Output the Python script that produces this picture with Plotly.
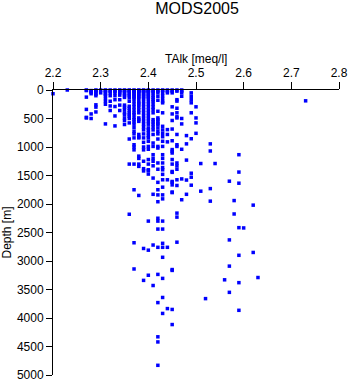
import plotly.graph_objects as go

# TAlk columns (meq/l) and the depths (m) of the samples in each column
d_220 = [65]
d_223 = [0]
d_227 = [0, 10, 125, 340, 480, 490]
d_228 = [10, 20, 40, 65, 420, 500]
d_229 = [0, 10, 20, 50, 75, 100, 260, 300, 385]
d_230 = [0, 50]
d_231 = [0, 10, 20, 50, 75, 100, 150, 200, 250, 595]
d_232 = [0, 20, 50, 100, 197, 280, 360]
d_233 = [0, 20, 50, 100, 170, 290, 455, 630]
d_234 = [0, 10, 30, 50, 90, 170, 265, 360]
d_235 = [0, 10, 20, 50, 75, 100, 130, 265, 300, 340, 400, 430, 490, 535, 605]
d_236 = [0, 10, 20, 50, 75, 100, 137, 197, 285, 320, 360, 400, 431, 461, 500, 577, 860, 1300, 2180]
d_237 = [0, 10, 20, 30, 50, 75, 100, 125, 150, 200, 250, 300, 350, 400, 430, 485, 520, 560, 600,
         660, 725, 770, 840, 960, 1000, 1050, 1300, 1750, 2680, 3140]
d_238 = [0, 10, 20, 30, 50, 75, 100, 125, 150, 200, 230, 260, 300, 350, 400, 490, 520, 550, 780,
         825, 840, 1160, 1200, 1300, 1340, 1850]
d_239 = [0, 10, 20, 30, 50, 75, 100, 125, 150, 200, 250, 300, 350, 400, 450, 500, 550, 600, 650,
         700, 770, 840, 918, 1000, 1050, 1250, 1380, 1420, 2780, 3340]
d_240 = [0, 10, 20, 30, 50, 75, 100, 125, 150, 200, 250, 300, 350, 400, 450, 500, 550, 600, 665,
         700, 750, 800, 840, 900, 990, 1040, 1220, 1300, 1400, 1415, 1475, 2300, 2810, 3250]
d_241 = [0, 30, 50, 100, 130, 170, 200, 250, 300, 345, 400, 520, 560, 600, 650, 700, 780, 930,
         990, 1135, 1200, 1250, 1330, 1545, 1830, 2720, 3430]
d_242 = [0, 20, 50, 110, 180, 373, 490, 520, 550, 590, 610, 666, 725, 770, 860, 990, 1018, 1280,
         1390, 1620, 1750, 1840, 1960, 2250, 2300, 2440, 2760, 3235, 3730, 4330, 4420, 4830]
d_243 = [0, 10, 50, 100, 150, 200, 225, 400, 637, 700, 760, 820, 900, 990, 1135, 1200, 1280,
         1360, 1400, 1480, 1575, 1705, 1840, 1910, 2300, 2440, 2690, 2760, 2935, 3305, 3640, 3920]
d_244 = [0, 20, 50, 695, 780, 910, 1575, 2760, 3835]
d_245 = [0, 20, 50, 295, 420, 535, 685, 890, 1045, 1075, 1105, 1220, 1300, 1430, 1445, 1605,
         1620, 1665, 1790, 1800, 3150, 3165, 3850, 4115]
d_246 = [0, 20, 170, 195, 320, 400, 470, 490, 780, 960, 990, 1280, 1330, 1390, 1575, 1675,
         2160, 2230, 2670]
d_247 = [0, 20, 50, 110, 500, 595, 1040, 1560, 1925]
d_248 = [800, 945, 1230, 1580, 1830]
d_249 = [50, 110, 170, 225, 400, 855, 1460, 1530, 1670]
d_250 = [295, 490, 577, 760]
d_251 = [1290, 1775]
d_252 = [3660]
d_253 = [945, 1070, 1730, 1950]
d_254 = [1290]
d_256 = [3330]
d_257 = [1600, 2630, 3090, 3550]
d_258 = [1940, 2175]
d_259 = [1135, 1440, 1635, 2415, 2900, 3380, 3865]
d_260 = [2420]
d_262 = [2020, 2850]
d_263 = [3290]
d_273 = [190]

columns = [
    (2.20, d_220), (2.23, d_223), (2.27, d_227), (2.28, d_228), (2.29, d_229), (2.30, d_230),
    (2.31, d_231), (2.32, d_232), (2.33, d_233), (2.34, d_234), (2.35, d_235), (2.36, d_236),
    (2.37, d_237), (2.38, d_238), (2.39, d_239), (2.40, d_240), (2.41, d_241), (2.42, d_242),
    (2.43, d_243), (2.44, d_244), (2.45, d_245), (2.46, d_246), (2.47, d_247), (2.48, d_248),
    (2.49, d_249), (2.50, d_250), (2.51, d_251), (2.52, d_252), (2.53, d_253), (2.54, d_254),
    (2.56, d_256), (2.57, d_257), (2.58, d_258), (2.59, d_259), (2.60, d_260), (2.62, d_262),
    (2.63, d_263), (2.73, d_273),
]

x_ticks = [2.2, 2.3, 2.4, 2.5, 2.6, 2.7, 2.8]
y_ticks = [0, 500, 1000, 1500, 2000, 2500, 3000, 3500, 4000, 4500, 5000]

xs, ys = [], []
for talk, depths in columns:
    for d in depths:
        xs.append(talk)
        ys.append(d)

FONT = "Liberation Sans, Arial, Helvetica, sans-serif"

fig = go.Figure()
fig.add_trace(go.Scatter(
    x=xs, y=ys, mode="markers",
    marker=dict(symbol="square", size=3.5, color="#0000ff", line=dict(width=0)),
    cliponaxis=False, showlegend=False,
))

fig.update_layout(
    width=350, height=384,
    margin=dict(l=53, r=11, t=90, b=9),
    paper_bgcolor="white", plot_bgcolor="white",
    font=dict(family=FONT, size=12, color="black"),
    title=dict(text="MODS2005", x=0.563, xanchor="center", y=0.978, yanchor="middle",
               font=dict(family=FONT, size=16, color="black")),
    xaxis=dict(
        side="top", range=[2.2, 2.8], tickvals=x_ticks,
        ticktext=[f"{v:.1f}" for v in x_ticks],
        showgrid=False, zeroline=False, showline=True, linecolor="black", linewidth=1,
        ticks="outside", ticklen=7, tickcolor="black", tickwidth=1,
        tickfont=dict(size=12), automargin=False,
    ),
    yaxis=dict(
        range=[5000, 0], tickvals=y_ticks, ticktext=[str(v) for v in y_ticks],
        showgrid=False, zeroline=False, showline=True, linecolor="black", linewidth=1,
        ticks="outside", ticklen=6, tickcolor="black", tickwidth=1,
        title=dict(text="Depth [m]", font=dict(size=12), standoff=4),
        tickfont=dict(size=12), automargin=False,
    ),
    annotations=[dict(
        text="TAlk [meq/l]", xref="paper", yref="paper", x=0.5, y=1 + (90 - 59) / 285,
        xanchor="center", yanchor="middle", showarrow=False,
        font=dict(family=FONT, size=12, color="black"),
    )],
)

fig.write_html("out.html")
